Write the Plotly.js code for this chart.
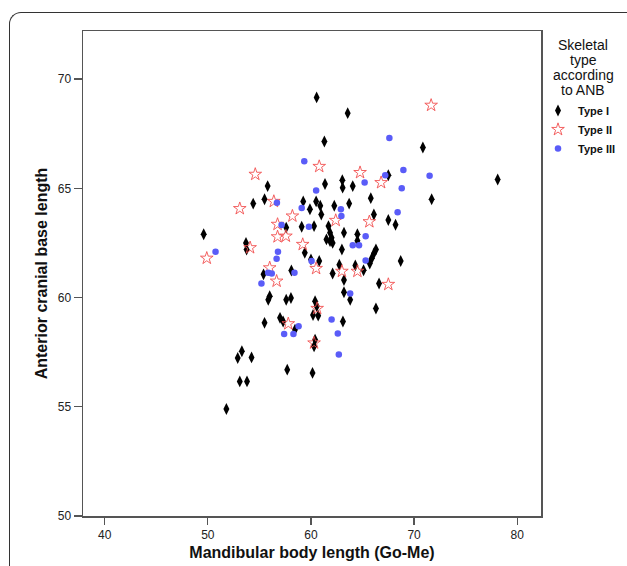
<!DOCTYPE html>
<html>
<head>
<meta charset="utf-8">
<script src="https://cdn.plot.ly/plotly-3.0.1.min.js"></script>
<style>
html,body{margin:0;padding:0;background:#fff;}
#frame{position:absolute;left:9px;top:12px;width:700px;height:700px;border-left:1.3px solid #333;border-top:1.3px solid #333;border-top-left-radius:12px;}
#chart{position:absolute;left:0;top:0;width:627px;height:566px;}
</style>
</head>
<body>
<div id="frame"></div>
<div id="chart"></div>
<script>
// Type I (diamonds)
const typeI_x = [60.55,63.56,61.3,70.85,78.1,71.7,67.5,63.04,63.07,64.05,61.36,55.8,54.4,55.5,59.25,60.5,60.9,62.26,63.7,65.8,59.9,61.0,66.1,67.5,68.2,57.6,59.1,60.3,61.7,61.85,62.0,61.5,61.85,62.1,63.2,64.5,64.5,63.0,66.3,66.1,65.9,65.7,68.7,60.8,62.75,62.1,64.3,65.1,63.2,63.2,66.6,63.8,60.4,60.2,60.7,66.3,63.1,49.6,53.7,53.76,59.4,60.0,55.4,58.1,56.0,55.86,57.6,58.06,60.56,57.0,57.3,55.5,58.45,60.4,60.3,53.3,52.9,54.24,53.1,53.8,51.8,57.7,60.15];
const typeI_y = [69.16,68.44,67.14,66.87,65.4,64.5,65.6,65.37,65.03,65.1,65.2,65.1,64.3,64.5,64.4,64.4,64.2,64.2,64.3,64.55,64.04,63.8,63.8,63.55,63.33,63.2,63.24,63.27,63.27,62.97,62.74,62.66,62.58,62.5,62.97,62.9,62.6,62.2,62.2,62.02,61.8,61.56,61.67,61.67,61.5,61.1,61.47,61.25,60.8,60.24,60.64,59.9,59.83,59.2,59.17,59.5,58.9,62.9,62.5,62.2,62.05,61.74,61.06,61.24,60.06,59.9,59.9,59.98,59.6,59.07,58.9,58.84,58.53,58.07,57.77,57.54,57.23,57.26,56.16,56.16,54.9,56.7,56.55];
// Type II (stars)
const typeII_x = [71.65,60.8,64.76,54.6,66.8,53.1,56.4,58.2,62.4,65.66,56.76,56.76,57.57,59.2,54.1,49.9,60.5,56.0,56.67,63.0,64.5,67.5,60.6,57.8,60.3];
const typeII_y = [68.8,66.0,65.72,65.64,65.26,64.07,64.4,63.73,63.53,63.47,63.35,62.78,62.81,62.43,62.28,61.8,61.33,61.36,60.75,61.2,61.2,60.6,59.5,58.8,57.92];
// Type III (circles)
const typeIII_x = [67.6,59.35,68.96,67.2,71.5,68.8,65.2,60.5,56.7,59.1,62.9,62.95,68.4,57.15,59.8,65.3,64.05,64.66,50.75,56.8,56.67,60.06,65.3,55.85,56.2,58.4,55.2,63.8,58.8,57.4,58.3,62.0,62.6,62.7];
const typeIII_y = [67.3,66.24,65.84,65.6,65.57,65.0,65.26,64.9,64.34,64.1,64.04,63.73,63.9,63.32,63.24,62.8,62.39,62.39,62.1,62.1,61.77,61.67,61.7,61.13,61.1,61.13,60.64,60.18,58.68,58.33,58.33,59.0,58.35,57.39];

const xTicks = [40,50,60,70,80];
const yTicks = [50,55,60,65,70];
const legendTitle = ["Skeletal","type","according","to ANB"];

const FONT = "Arial, 'Liberation Sans', sans-serif";

const traces = [
  {x: typeI_x, y: typeI_y, name: "Type I", type: "scatter", mode: "markers",
   marker: {symbol: "diamond-tall", size: 8.5, color: "#000"}},
  {x: typeII_x, y: typeII_y, name: "Type II", type: "scatter", mode: "markers",
   marker: {symbol: "star-open", size: 9.5, color: "#f25050", line: {width: 0.9, color: "#f25050"}}},
  {x: typeIII_x, y: typeIII_y, name: "Type III", type: "scatter", mode: "markers",
   marker: {symbol: "circle", size: 6.5, color: "#5a5cf8"}}
];

const L = 83, R = 541, T = 31, B = 516;
const annotations = legendTitle.map((t, i) => ({
  text: t, xref: "paper", yref: "paper",
  x: (583 - L) / (R - L), y: (B - (45 + i * 15)) / (B - T),
  xanchor: "center", yanchor: "middle", showarrow: false,
  font: {family: FONT, size: 14, color: "#111"}
}));

const layout = {
  width: 627, height: 566,
  margin: {l: L, r: 627 - R, t: T, b: 566 - B, pad: 0, autoexpand: false},
  paper_bgcolor: "rgba(0,0,0,0)", plot_bgcolor: "#fff",
  showlegend: true,
  legend: {x: (538 - L) / (R - L), y: (B - 96) / (B - T), xanchor: "left", yanchor: "top",
           bgcolor: "rgba(0,0,0,0)", itemwidth: 30, tracegroupgap: 0,
           font: {family: FONT, size: 11, color: "#111", weight: "bold"}},
  xaxis: {range: [37.9, 82.3], tickvals: xTicks, ticktext: xTicks.map(String),
          showgrid: false, zeroline: false, showline: true, linecolor: "#555", linewidth: 1.5,
          mirror: true, ticks: "outside", ticklen: 7, tickcolor: "#555", tickwidth: 1.3,
          tickfont: {family: FONT, size: 12, color: "#222"},
          title: {text: "Mandibular body length (Go-Me)", standoff: 6,
                  font: {family: FONT, size: 16, color: "#111", weight: "bold"}}},
  yaxis: {range: [50, 72.2], tickvals: yTicks, ticktext: yTicks.map(String),
          showgrid: false, zeroline: false, showline: true, linecolor: "#555", linewidth: 1.5,
          mirror: true, ticks: "outside", ticklen: 8, tickcolor: "#555", tickwidth: 1.3,
          tickfont: {family: FONT, size: 12, color: "#222"},
          title: {text: "Anterior cranial base length", standoff: 6,
                  font: {family: FONT, size: 16, color: "#111", weight: "bold"}}},
  annotations: annotations
};

Plotly.newPlot("chart", traces, layout, {staticPlot: true});
</script>
</body>
</html>
